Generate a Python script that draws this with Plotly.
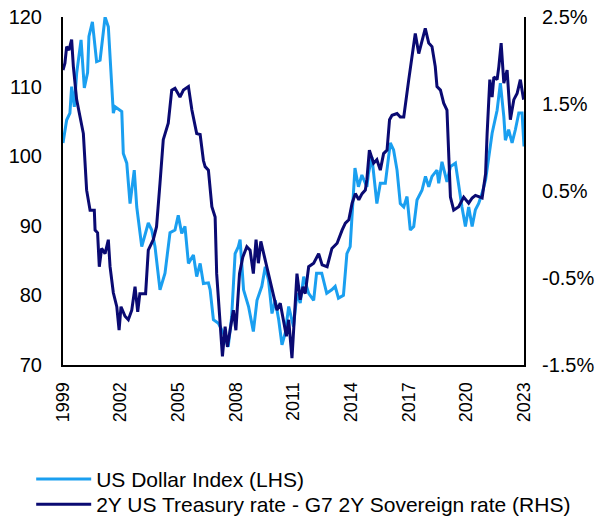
import plotly.graph_objects as go

# ---- data ----
dxy_years = [1999.00, 1999.19, 1999.36, 1999.45, 1999.59, 1999.71, 1999.94, 2000.11, 2000.28, 2000.35,
             2000.53, 2000.75, 2000.93, 2001.19, 2001.36, 2001.62, 2001.71, 2002.06, 2002.14, 2002.32,
             2002.49, 2002.71, 2002.84, 2003.10, 2003.44, 2003.62, 2003.79, 2004.05, 2004.31, 2004.57,
             2004.83, 2005.00, 2005.18, 2005.35, 2005.53, 2005.79, 2005.96, 2006.14, 2006.31, 2006.57,
             2006.66, 2006.83, 2007.09, 2007.35, 2007.60, 2007.78, 2007.96, 2008.13, 2008.22, 2008.40,
             2008.66, 2008.91, 2009.10, 2009.35, 2009.53, 2009.70, 2009.88, 2010.05, 2010.23, 2010.40,
             2010.57, 2010.75, 2011.00, 2011.18, 2011.35, 2011.53, 2011.79, 2012.05, 2012.20, 2012.47,
             2012.73, 2012.99, 2013.17, 2013.34, 2013.60, 2013.78, 2013.95, 2014.12, 2014.20, 2014.38,
             2014.56, 2014.82, 2014.90, 2015.08, 2015.25, 2015.34, 2015.52, 2015.78, 2016.04, 2016.21,
             2016.39, 2016.56, 2016.74, 2016.91, 2017.08, 2017.26, 2017.43, 2017.69, 2017.87, 2018.04,
             2018.21, 2018.47, 2018.56, 2018.73, 2018.99, 2019.17, 2019.43, 2019.60, 2019.77, 2019.95,
             2020.12, 2020.30, 2020.47, 2020.64, 2020.82, 2021.00, 2021.16, 2021.34, 2021.60, 2021.77,
             2021.95, 2022.03, 2022.20, 2022.38, 2022.55, 2022.73, 2022.90, 2023.00]
dxy_values = [101.9, 105.2, 106.2, 110.0, 107.1, 111.9, 116.7, 109.8, 112.0, 117.2,
              119.3, 113.6, 113.8, 120.0, 118.6, 106.2, 107.1, 106.4, 100.4, 99.0,
              93.2, 98.0, 92.7, 87.0, 90.4, 89.4, 87.0, 80.8, 83.2, 89.0,
              89.4, 91.5, 88.9, 89.9, 84.6, 85.8, 82.7, 84.6, 81.7, 81.8,
              80.8, 76.5, 76.0, 74.6, 72.6, 76.9, 86.0, 87.0, 88.0, 80.8,
              78.4, 74.8, 79.3, 81.3, 84.1, 82.2, 77.4, 79.3, 76.5, 72.9,
              74.6, 78.4, 75.5, 80.3, 78.9, 82.7, 80.3, 79.3, 83.2, 83.2,
              80.3, 80.8, 81.3, 79.6, 80.0, 86.0, 87.0, 94.7, 98.3, 95.6,
              97.3, 95.6, 97.5, 99.9, 95.6, 93.2, 96.1, 96.1, 101.9, 100.9,
              98.0, 93.2, 92.7, 94.2, 89.4, 89.9, 93.7, 95.1, 97.1, 95.6,
              97.1, 98.0, 96.1, 99.2, 96.3, 98.5, 99.0, 95.6, 92.7, 89.9,
              92.7, 89.9, 92.3, 93.2, 94.7, 96.6, 99.9, 103.3, 106.6, 110.5,
              105.7, 102.3, 103.8, 101.9, 103.8, 106.2, 106.2, 101.4]

spread_years = [1999.00, 1999.10, 1999.19, 1999.31, 1999.45, 1999.54, 1999.71, 1999.89, 2000.06, 2000.23,
                2000.41, 2000.63, 2000.67, 2000.80, 2000.89, 2001.01, 2001.19, 2001.36, 2001.45, 2001.62,
                2001.80, 2001.92, 2002.02, 2002.23, 2002.40, 2002.58, 2002.75, 2002.89, 2003.00, 2003.30,
                2003.44, 2003.70, 2003.87, 2004.05, 2004.22, 2004.48, 2004.66, 2004.83, 2005.09, 2005.27,
                2005.53, 2005.71, 2005.96, 2006.14, 2006.31, 2006.40, 2006.57, 2006.75, 2006.92, 2007.00,
                2007.18, 2007.30, 2007.44, 2007.56, 2007.70, 2007.87, 2008.00, 2008.19, 2008.36, 2008.57,
                2008.74, 2008.91, 2009.05, 2009.17, 2009.30, 2009.53, 2009.70, 2009.96, 2010.14, 2010.31,
                2010.49, 2010.63, 2010.75, 2010.92, 2011.05, 2011.18, 2011.35, 2011.49, 2011.61, 2011.79,
                2012.05, 2012.31, 2012.49, 2012.75, 2013.00, 2013.27, 2013.53, 2013.70, 2013.88, 2014.05,
                2014.22, 2014.40, 2014.57, 2014.74, 2014.82, 2014.95, 2015.17, 2015.34, 2015.52, 2015.69,
                2015.87, 2016.00, 2016.13, 2016.39, 2016.56, 2016.74, 2017.00, 2017.17, 2017.34, 2017.52,
                2017.69, 2017.86, 2018.04, 2018.21, 2018.38, 2018.47, 2018.65, 2018.82, 2018.99, 2019.17,
                2019.34, 2019.60, 2019.86, 2020.12, 2020.30, 2020.47, 2020.82, 2021.00, 2021.08, 2021.22,
                2021.34, 2021.43, 2021.60, 2021.69, 2021.81, 2021.95, 2022.12, 2022.29, 2022.47, 2022.64,
                2022.81, 2022.98]
spread_values = [1.89, 1.97, 2.16, 2.12, 2.24, 1.93, 1.55, 1.35, 1.16, 0.51,
                 0.28, 0.28, 0.05, 0.02, -0.37, -0.16, -0.22, -0.06, -0.37, -0.67,
                 -0.83, -1.10, -0.83, -0.94, -0.98, -0.87, -0.60, -0.89, -0.68, -0.68,
                 -0.18, -0.06, 0.09, 0.59, 1.09, 1.28, 1.66, 1.68, 1.58, 1.66,
                 1.70, 1.43, 1.16, 1.15, 0.85, 0.78, 0.74, 0.32, 0.20, -0.45,
                 -1.06, -1.40, -1.06, -1.29, -1.10, -0.87, -1.10, -0.45, -0.26, -0.14,
                 -0.18, -0.45, -0.06, -0.33, -0.08, -0.29, -0.45, -0.71, -0.87, -0.79,
                 -1.02, -1.17, -0.98, -1.42, -0.94, -0.45, -0.75, -0.60, -0.68, -0.37,
                 -0.33, -0.22, -0.35, -0.37, -0.16, -0.10, 0.05, 0.13, 0.17, 0.36,
                 0.47, 0.40, 0.47, 0.51, 0.63, 0.97, 0.82, 0.86, 0.74, 0.93,
                 0.97, 1.32, 1.37, 1.39, 1.35, 1.35, 1.78, 2.04, 2.31, 2.08,
                 2.24, 2.37, 2.20, 2.16, 1.93, 1.70, 1.66, 1.51, 1.43, 0.43,
                 0.28, 0.32, 0.43, 0.36, 0.42, 0.45, 0.42, 0.70, 1.16, 1.78,
                 1.58, 1.81, 1.78, 1.93, 2.20, 1.74, 1.89, 1.32, 1.55, 1.62,
                 1.78, 1.55]

x_ticks = [1999, 2002, 2005, 2008, 2011, 2014, 2017, 2020, 2023]
left_ticks = [70, 80, 90, 100, 110, 120]
right_ticks = [-1.5, -0.5, 0.5, 1.5, 2.5]
right_tick_labels = ["-1.5%", "-0.5%", "0.5%", "1.5%", "2.5%"]

FONT = "Liberation Sans, Arial, sans-serif"

fig = go.Figure()
fig.add_trace(go.Scatter(x=dxy_years, y=dxy_values, mode="lines",
                         name="US Dollar Index (LHS)", legend="legend",
                         line=dict(color="#1A9FF0", width=3)))
fig.add_trace(go.Scatter(x=spread_years, y=spread_values, mode="lines", yaxis="y2",
                         name="2Y US Treasury rate - G7 2Y Sovereign rate (RHS)", legend="legend2",
                         line=dict(color="#0A0A72", width=3)))

legend_common = dict(xanchor="left", yanchor="top", orientation="v",
                     font=dict(size=21), bgcolor="rgba(0,0,0,0)", itemwidth=55)

fig.update_layout(
    width=598, height=519,
    margin=dict(l=63, r=74, t=17, b=154, autoexpand=False),
    paper_bgcolor="white", plot_bgcolor="white",
    font=dict(family=FONT, size=20, color="black"),
    showlegend=True,
    legend=dict(x=-0.069, y=-0.270, **legend_common),
    legend2=dict(x=-0.069, y=-0.342, **legend_common),
    xaxis=dict(range=[1999, 2023], tickvals=x_ticks, ticktext=[str(t) for t in x_ticks],
               tickangle=-90, showgrid=False, zeroline=False, tickfont=dict(size=18),
               showline=True, linecolor="black", linewidth=2, automargin=False,
               ticks="", ticklabelstandoff=8),
    yaxis=dict(range=[70, 120], tickvals=left_ticks, showgrid=False, zeroline=False,
               showline=True, linecolor="black", linewidth=2, ticks="", automargin=False,
               ticklabelstandoff=15),
    yaxis2=dict(range=[-1.5, 2.5], tickvals=right_ticks, ticktext=right_tick_labels,
                overlaying="y", side="right", showgrid=False, zeroline=False,
                showline=True, linecolor="black", linewidth=2, ticks="", automargin=False,
                ticklabelstandoff=12),
)

fig.write_html("out.html", config={"displayModeBar": False},
               post_script="document.body.style.margin='0';")
